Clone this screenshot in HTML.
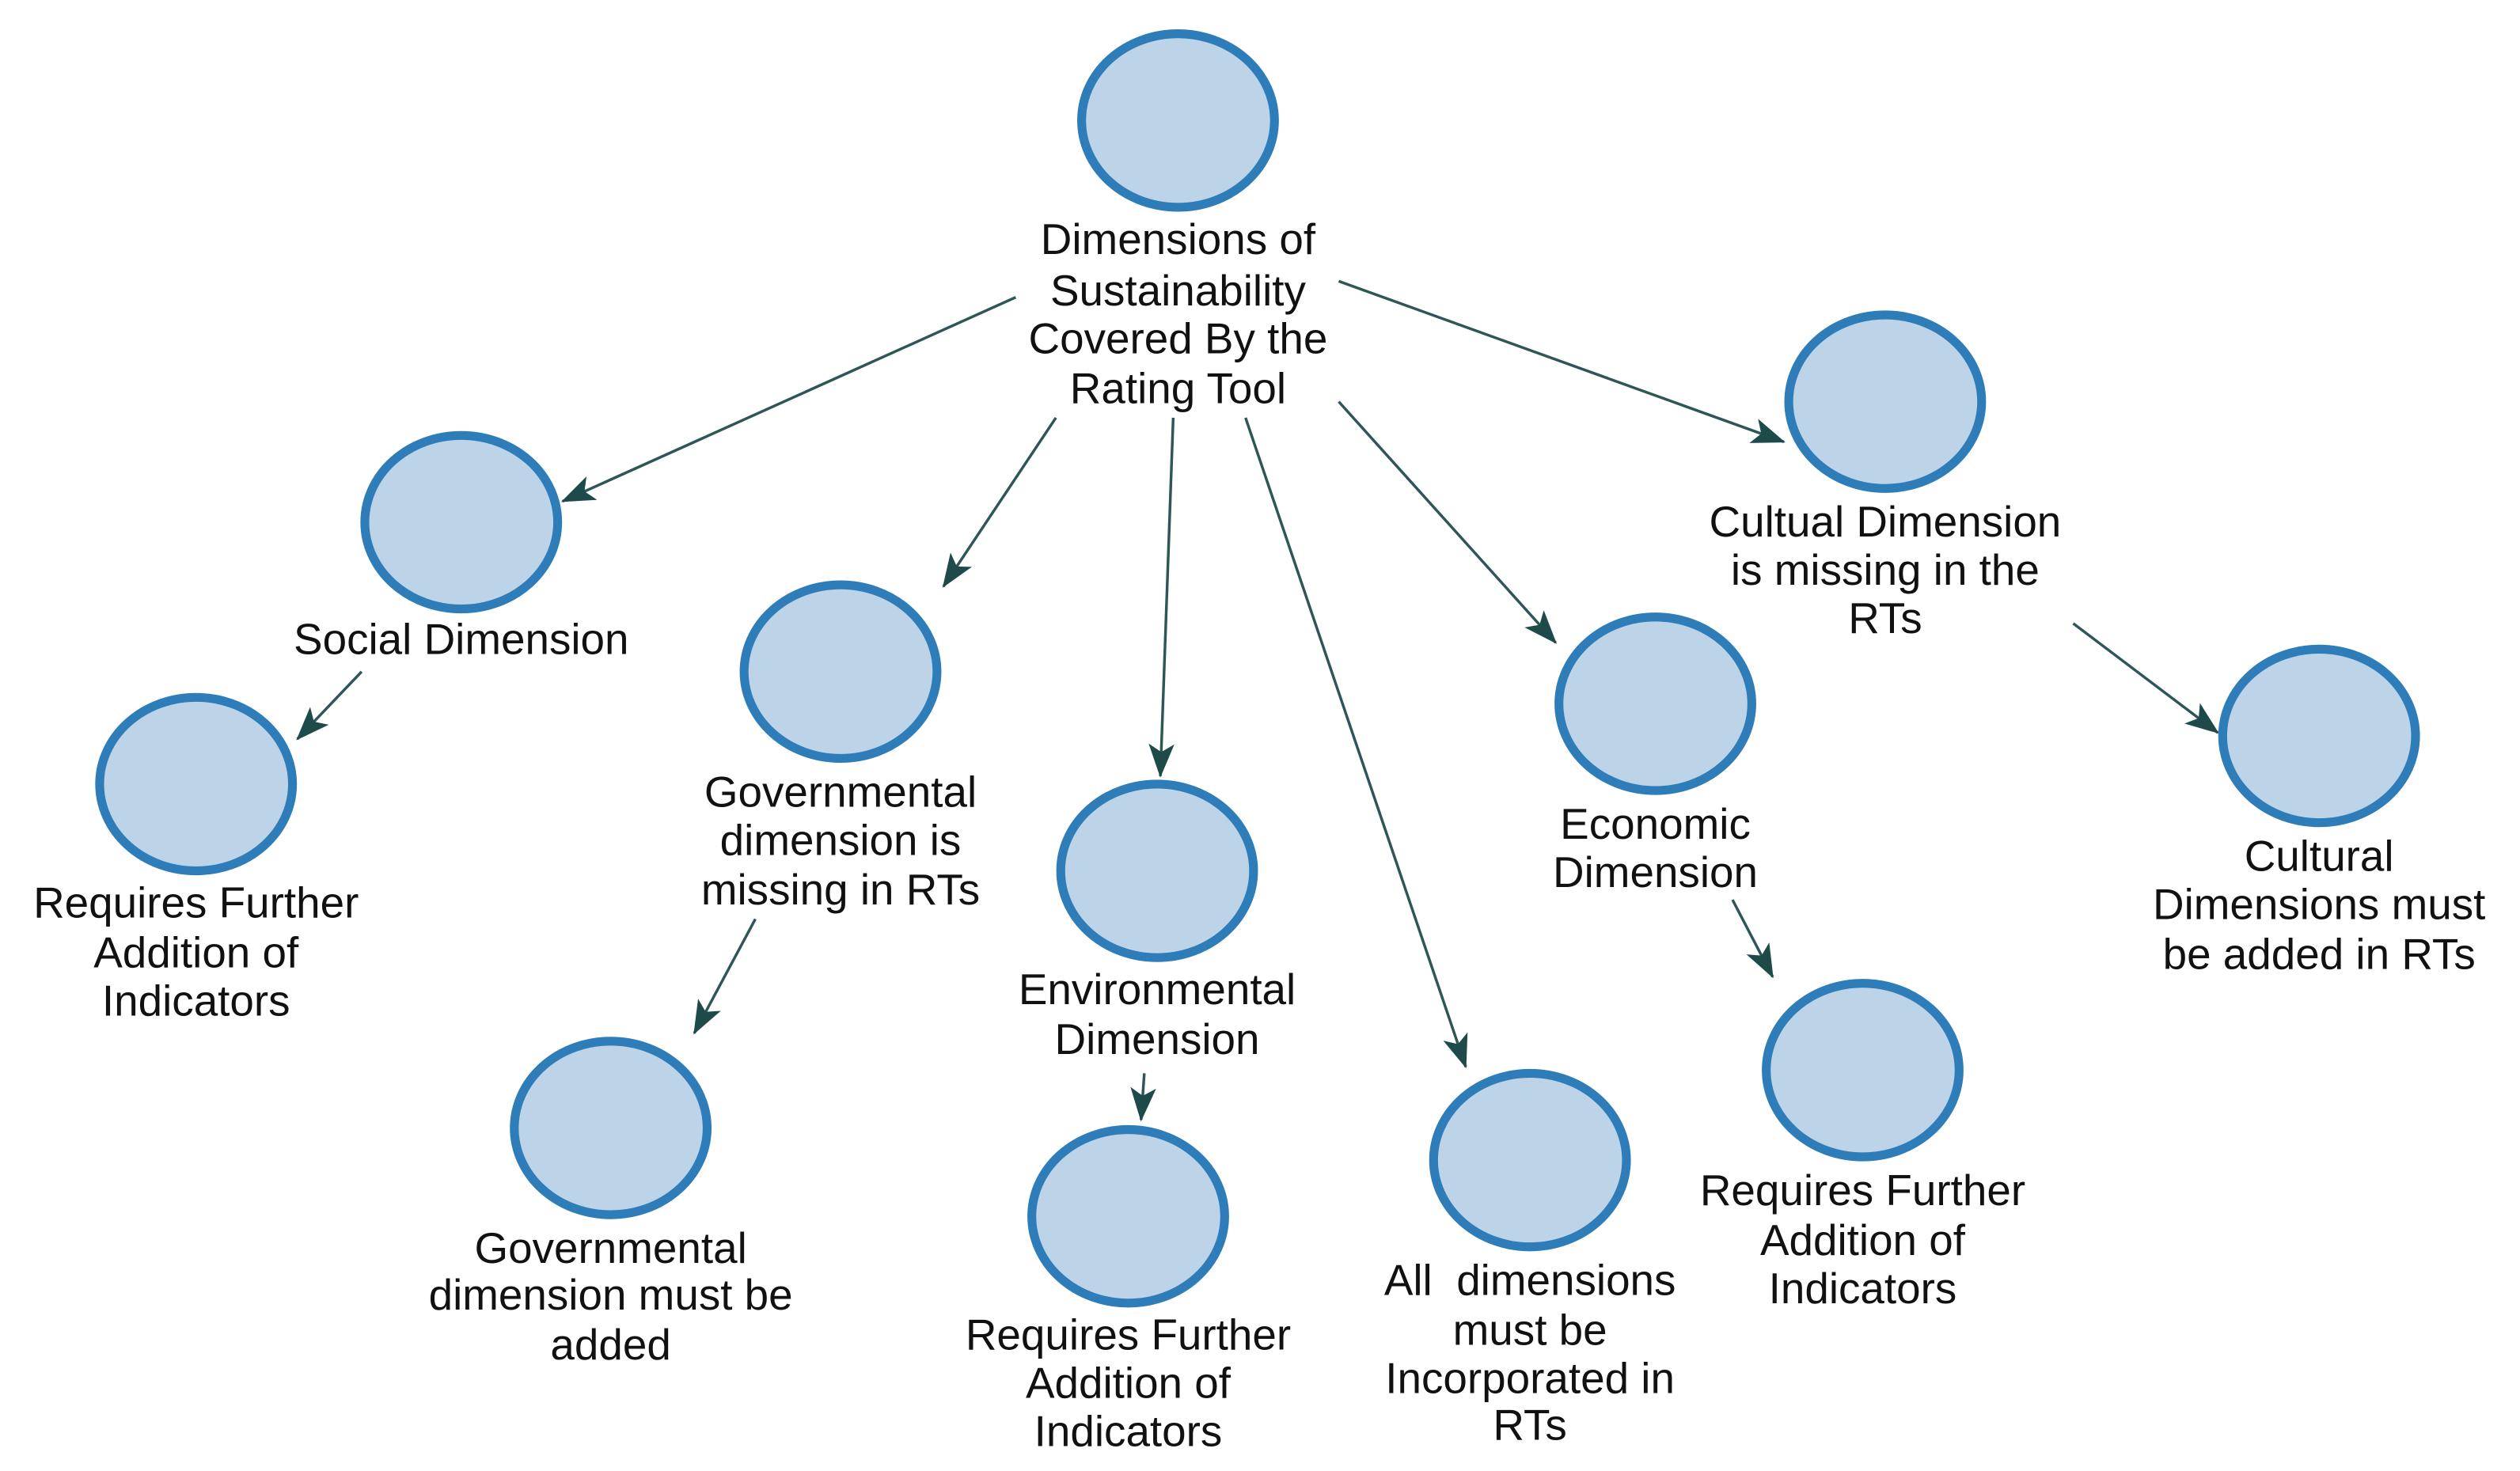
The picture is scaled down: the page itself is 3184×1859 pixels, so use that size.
<!DOCTYPE html>
<html><head><meta charset="utf-8"><style>
html,body{margin:0;padding:0;background:#fff;}
svg{display:block;}
text{font-family:"Liberation Sans",Arial,sans-serif;font-size:27px;fill:#111;text-anchor:middle;}
</style></head><body>
<svg width="3184" height="1859" viewBox="0 0 1568 915.5" preserveAspectRatio="none" xmlns="http://www.w3.org/2000/svg">
<defs>
<marker id="a" markerWidth="22" markerHeight="16" refX="20" refY="8" orient="auto" markerUnits="userSpaceOnUse">
<path d="M0,0 L21,8 L0,16 L5,8 Z" fill="#1f4a4a"/>
</marker>
</defs>
<g stroke="#2f5656" stroke-width="1.7" fill="none" marker-end="url(#a)">
<line x1="632" y1="185" x2="350" y2="312"/>
<line x1="657" y1="260" x2="587" y2="365"/>
<line x1="730" y1="260" x2="722" y2="483"/>
<line x1="775" y1="260" x2="912" y2="664"/>
<line x1="833" y1="250" x2="968" y2="400"/>
<line x1="833" y1="175" x2="1110" y2="275"/>
<line x1="225" y1="418" x2="185" y2="460"/>
<line x1="470" y1="572" x2="432" y2="643"/>
<line x1="712" y1="668" x2="710" y2="697"/>
<line x1="1078" y1="560" x2="1103" y2="608"/>
<line x1="1290" y1="388" x2="1380" y2="456"/>
</g>
<g fill="#bdd4e8" stroke="#2f7db8" stroke-width="5.5">
<ellipse cx="733" cy="75" rx="60" ry="54"/>
<ellipse cx="287" cy="325" rx="60" ry="54"/>
<ellipse cx="122" cy="488" rx="60" ry="54"/>
<ellipse cx="523" cy="418" rx="60" ry="54"/>
<ellipse cx="380" cy="702" rx="60" ry="54"/>
<ellipse cx="720" cy="542" rx="60" ry="54"/>
<ellipse cx="702" cy="757" rx="60" ry="54"/>
<ellipse cx="952" cy="722" rx="60" ry="54"/>
<ellipse cx="1030" cy="438" rx="60" ry="54"/>
<ellipse cx="1159" cy="666" rx="60" ry="54"/>
<ellipse cx="1173" cy="250" rx="60" ry="54"/>
<ellipse cx="1443" cy="458" rx="60" ry="54"/>
</g>
<text x="733" y="158">Dimensions of</text>
<text x="733" y="190">Sustainability</text>
<text x="733" y="220">Covered By the</text>
<text x="733" y="251">Rating Tool</text>
<text x="287" y="407">Social Dimension</text>
<text x="122" y="571">Requires Further</text>
<text x="122" y="602">Addition of</text>
<text x="122" y="632">Indicators</text>
<text x="523" y="502">Governmental</text>
<text x="523" y="532">dimension is</text>
<text x="523" y="563">missing in RTs</text>
<text x="380" y="786">Governmental</text>
<text x="380" y="815">dimension must be</text>
<text x="380" y="846">added</text>
<text x="720" y="625">Environmental</text>
<text x="720" y="656">Dimension</text>
<text x="702" y="840">Requires Further</text>
<text x="702" y="870">Addition of</text>
<text x="702" y="900">Indicators</text>
<text x="952" y="806" xml:space="preserve">All  dimensions</text>
<text x="952" y="837">must be</text>
<text x="952" y="867">Incorporated in</text>
<text x="952" y="896">RTs</text>
<text x="1030" y="522">Economic</text>
<text x="1030" y="552">Dimension</text>
<text x="1159" y="750">Requires Further</text>
<text x="1159" y="781">Addition of</text>
<text x="1159" y="811">Indicators</text>
<text x="1173" y="334">Cultual Dimension</text>
<text x="1173" y="364">is missing in the</text>
<text x="1173" y="394">RTs</text>
<text x="1443" y="542">Cultural</text>
<text x="1443" y="572">Dimensions must</text>
<text x="1443" y="603">be added in RTs</text>
</svg>
</body></html>
